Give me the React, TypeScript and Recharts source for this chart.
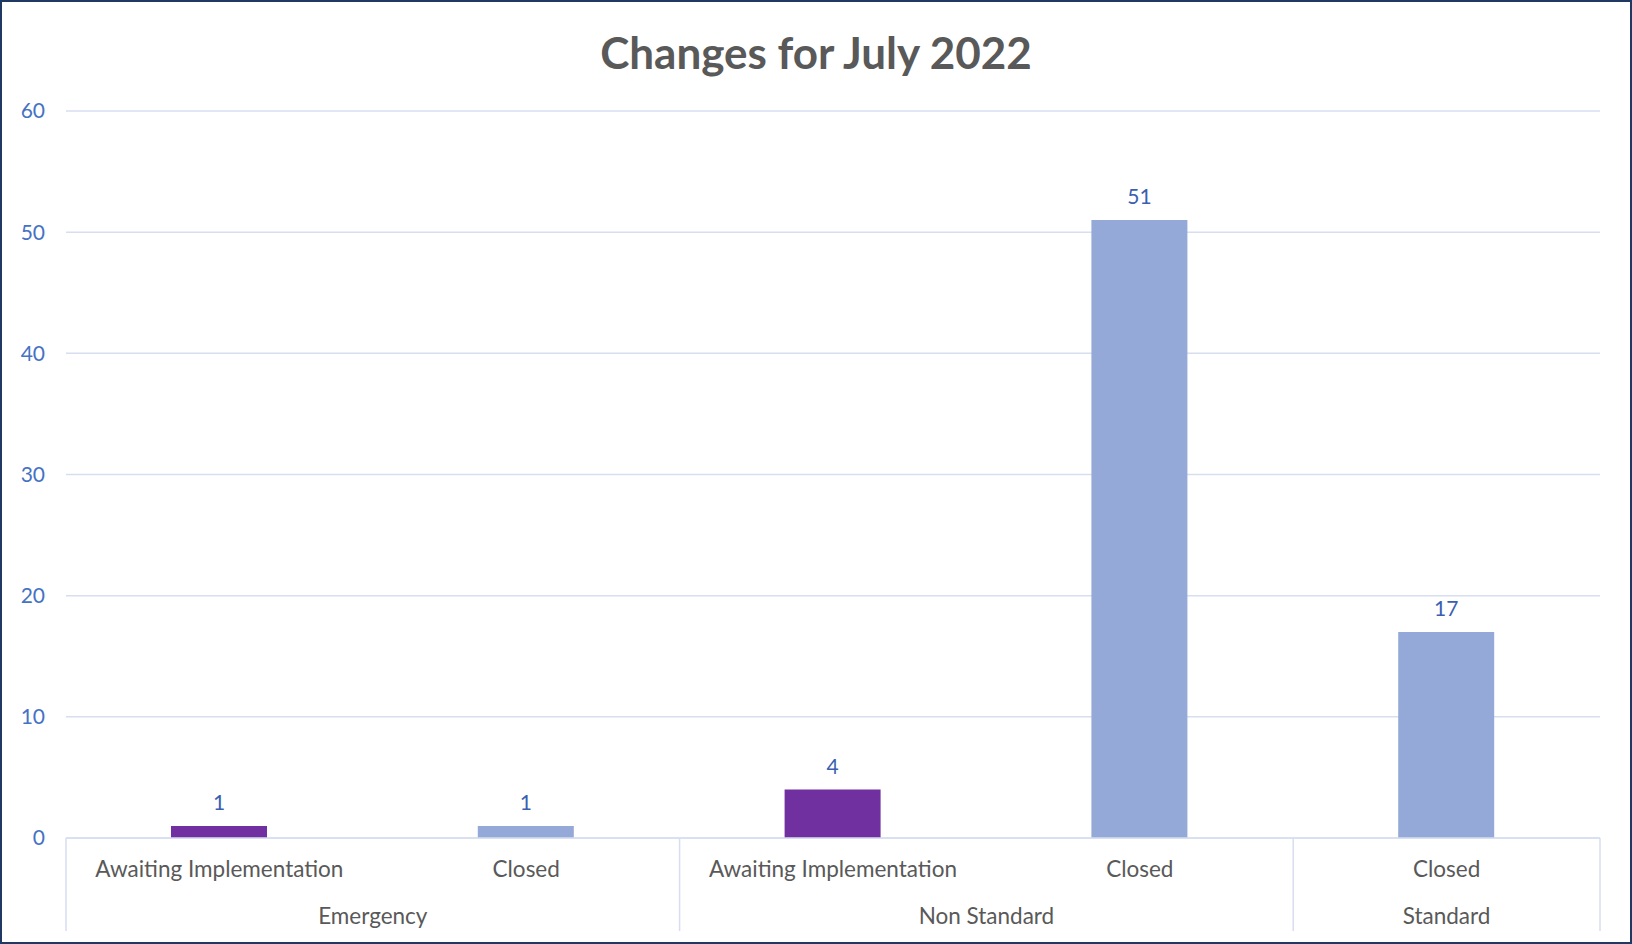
import { BarChart, Bar, XAxis, YAxis, CartesianGrid, Cell, LabelList } from 'recharts'

const statuses = ['Awaiting Implementation', 'Closed', 'Awaiting Implementation', 'Closed', 'Closed']
const changeTypes = ['Emergency', 'Emergency', 'Non Standard', 'Non Standard', 'Standard']
const counts = [1, 1, 4, 51, 17]
const yTicks = [0, 10, 20, 30, 40, 50, 60]

const W = 1632
const H = 944
const M = { top: 111, right: 32, bottom: 0, left: 6 }
const Y_AXIS_W = 60
const X_AXIS_H = 106
const PLOT_W = W - M.left - M.right - Y_AXIS_W
const FONT = 'Lato, "Open Sans", sans-serif'
const GRID = '#D6DEF0'

const colorFor = (status: string) => (status === 'Closed' ? '#94A9D8' : '#7030A0')

const data = statuses.map((s, i) => ({ key: String(i), status: s, type: changeTypes[i], count: counts[i] }))

function GroupedTick(props: any) {
  const { x, y, payload } = props
  const i = payload.index
  const band = PLOT_W / data.length
  const first = i === 0 || changeTypes[i - 1] !== changeTypes[i]
  const last = i === data.length - 1
  let span = 0
  if (first) {
    let j = i
    while (j < data.length && changeTypes[j] === changeTypes[i]) j++
    span = j - i
  }
  return (
    <g>
      <text x={x} y={y + 30} textAnchor="middle" dominantBaseline="central" fill="#595959" fontSize={22.5} fontFamily={FONT}>
        {statuses[i]}
      </text>
      {first && (
        <>
          <line x1={x - band / 2} x2={x - band / 2} y1={y} y2={y + 93} stroke={GRID} strokeWidth={1.5} />
          <text x={x + ((span - 1) * band) / 2} y={y + 77} textAnchor="middle" dominantBaseline="central" fill="#595959" fontSize={22.5} fontFamily={FONT}>
            {changeTypes[i]}
          </text>
        </>
      )}
      {last && <line x1={x + band / 2} x2={x + band / 2} y1={y} y2={y + 93} stroke={GRID} strokeWidth={1.5} />}
    </g>
  )
}

export default function App() {
  return (
    <div
      style={{
        position: 'absolute',
        top: 0,
        left: 0,
        width: W,
        height: H,
        boxSizing: 'border-box',
        border: '2px solid #1F3864',
        background: '#fff',
      }}
    >
      <div
        style={{
          position: 'absolute',
          top: 50,
          left: 0,
          width: '100%',
          transform: 'translateY(-50%)',
          textAlign: 'center',
          fontFamily: FONT,
          fontWeight: 700,
          fontSize: 44,
          color: '#595959',
        }}
      >
        Changes for July 2022
      </div>
      <div style={{ position: 'absolute', top: -2, left: -2 }}>
        <BarChart width={W} height={H} data={data} margin={M}>
          <CartesianGrid vertical={false} stroke={GRID} strokeWidth={1.5} />
          <XAxis
            dataKey="key"
            height={X_AXIS_H}
            axisLine={{ stroke: GRID, strokeWidth: 1.5 }}
            tickLine={false}
            tickSize={0}
            tickMargin={0}
            interval={0}
            tick={<GroupedTick />}
          />
          <YAxis
            width={Y_AXIS_W}
            domain={[0, 60]}
            ticks={yTicks}
            axisLine={false}
            tickLine={false}
            tickSize={0}
            tickMargin={21}
            tick={{ fill: '#4472C4', fontSize: 21, fontFamily: FONT }}
          />
          <Bar dataKey="count" barSize={96} isAnimationActive={false}>
            {data.map((d, i) => (
              <Cell key={i} fill={colorFor(d.status)} />
            ))}
            <LabelList dataKey="count" position="top" offset={16} fill="#3A5FB0" fontSize={21} fontFamily={FONT} />
          </Bar>
        </BarChart>
      </div>
    </div>
  )
}
